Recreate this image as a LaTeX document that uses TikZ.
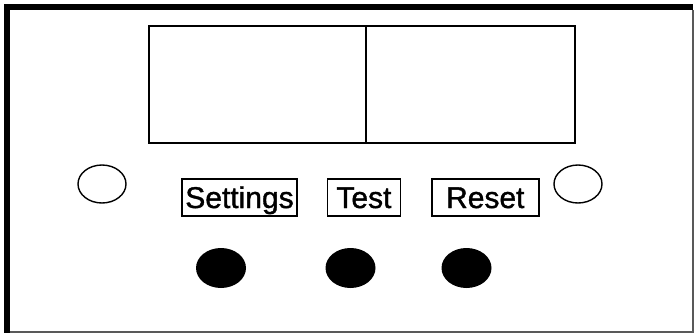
\documentclass[tikz,border=0pt]{standalone}
\usepackage{fontspec}
\setmainfont{Liberation Sans}
\newfontfamily\keyfont{Liberation Sans}[AutoFakeBold=1.2]
\usetikzlibrary{shapes.geometric, positioning}

\begin{document}
\begin{tikzpicture}[
    x=1pt, y=-1pt,
    panel/.style={rectangle, draw=black, line width=2.8pt, outer sep=0pt, minimum height=117pt},
    keybox/.style={rectangle, draw=black, line width=1.4pt, inner sep=0pt, minimum height=37pt, text height=24pt, text depth=3pt, font=\fontsize{30}{32}\keyfont\bfseries},
    lamp/.style={ellipse, draw=black, line width=1.4pt, minimum width=48pt, minimum height=38pt, inner sep=0pt},
    knob/.style={ellipse, fill=black, minimum width=50pt, minimum height=40pt, inner sep=0pt}
]
\useasboundingbox (0,0) rectangle (694,333);

% Frame
\fill[white] (0,0) rectangle (694,333);
\draw[gray!70!black, line width=1.2pt] (10,332) -- (693,332) -- (693,10);
\fill[black] (4,4) rectangle (693,10);
\fill[black] (4,4) rectangle (10,333);

% Display
\node[panel, minimum width=217pt] (panelL) at (257.5,84.5) {};
\node[panel, minimum width=209pt, right=0pt of panelL] (panelR) {};

% Indicator lamps
\node[lamp] (lampL) at (102,184) {};
\node[lamp] (lampR) at (578,184) {};

% Buttons labels
\node[keybox, minimum width=115pt] (settings) at (239.5,197.5) {Settings};
\node[keybox, minimum width=73pt, right=29pt of settings] (test) {Test};
\node[keybox, minimum width=107pt, right=30pt of test] (reset) {Reset};

% Push buttons
\node[knob] (knobS) at (221,268) {};
\node[knob] (knobT) at (350.5,268) {};
\node[knob] (knobR) at (466.5,268) {};

\end{tikzpicture}
\end{document}
